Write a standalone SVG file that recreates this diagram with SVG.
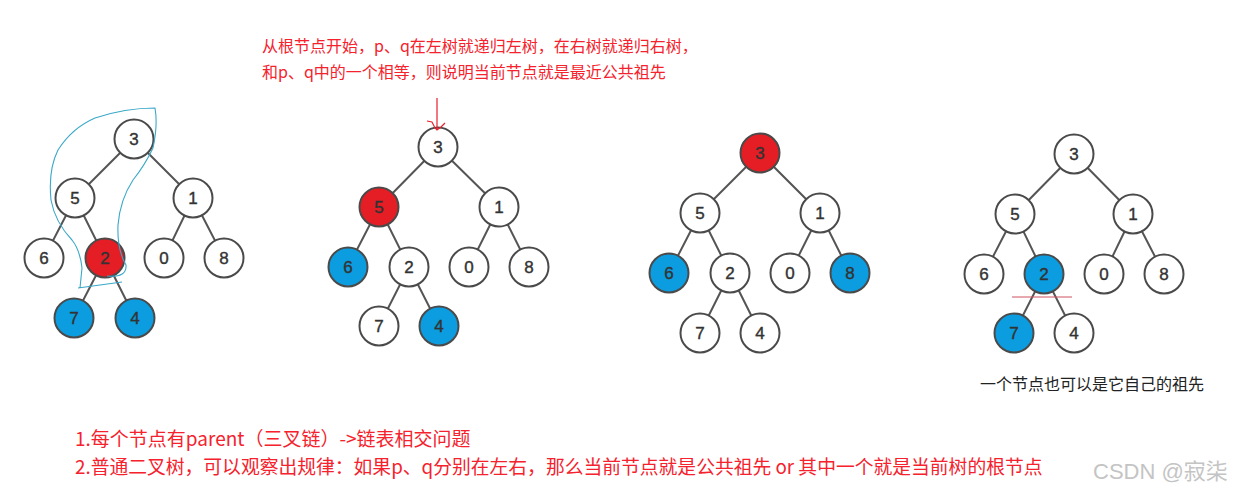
<svg xmlns="http://www.w3.org/2000/svg" width="1234" height="494" viewBox="0 0 1234 494">
<style>
.e{stroke:#555;stroke-width:2;fill:none}
.n{fill:#fff;stroke:#4a4a4a;stroke-width:2}
.r{fill:#e51d25;stroke:#4a4a4a;stroke-width:2}
.b{fill:#0b9de0;stroke:#4a4a4a;stroke-width:2}
.d{font-family:"Liberation Sans",Arial,sans-serif;font-size:17px;fill:#333;stroke:#333;stroke-width:0.4;text-anchor:middle}
.red{font-family:"Noto Sans CJK SC",sans-serif;fill:#f5222d}
.cap{font-family:"Noto Sans CJK SC",sans-serif;font-size:16px;fill:#222}
</style>
<rect width="1234" height="494" fill="#fff"/>
<g id="connectors">
<!-- tree 1 -->
<path class="e" d="M134,139L75,198M134,139L193,198M75,198L44,258M75,198L105,258M193,198L164,258M193,198L224,258M105,258L74,318M105,258L135,318"/>
<!-- tree 2 -->
<path class="e" d="M438,147L379,207M438,147L499,207M379,207L348,267M379,207L409,267M499,207L469,267M499,207L529,267M409,267L379,326M409,267L439,326"/>
<!-- tree 3 -->
<path class="e" d="M760,153L700,213M760,153L820,213M700,213L669,273M700,213L730,273M820,213L790,273M820,213L850,273M730,273L700,333M730,273L760,333"/>
<!-- tree 4 -->
<path class="e" d="M1074,154L1015,214M1074,154L1133,214M1015,214L984,274M1015,214L1044,274M1133,214L1104,274M1133,214L1164,274M1044,274L1014,333M1044,274L1074,333"/>
</g>
<!-- tree 1 nodes -->
<g id="t1-3"><circle class="n" cx="134" cy="139" r="19.5"/><text class="d" x="134" y="145">3</text></g>
<g id="t1-5"><circle class="n" cx="75" cy="198" r="19.5"/><text class="d" x="75" y="204">5</text></g>
<g id="t1-1"><circle class="n" cx="193" cy="198" r="19.5"/><text class="d" x="193" y="204">1</text></g>
<g id="t1-6"><circle class="n" cx="44" cy="258" r="19.5"/><text class="d" x="44" y="264">6</text></g>
<g id="t1-2"><circle class="r" cx="105" cy="258" r="19.5"/><text class="d" x="105" y="264">2</text></g>
<g id="t1-0"><circle class="n" cx="164" cy="258" r="19.5"/><text class="d" x="164" y="264">0</text></g>
<g id="t1-8"><circle class="n" cx="224" cy="258" r="19.5"/><text class="d" x="224" y="264">8</text></g>
<g id="t1-7"><circle class="b" cx="74" cy="318" r="19.5"/><text class="d" x="74" y="324">7</text></g>
<g id="t1-4"><circle class="b" cx="135" cy="318" r="19.5"/><text class="d" x="135" y="324">4</text></g>
<!-- tree 2 nodes -->
<g id="t2-3"><circle class="n" cx="438" cy="147" r="19.5"/><text class="d" x="438" y="153">3</text></g>
<g id="t2-5"><circle class="r" cx="379" cy="207" r="19.5"/><text class="d" x="379" y="213">5</text></g>
<g id="t2-1"><circle class="n" cx="499" cy="207" r="19.5"/><text class="d" x="499" y="213">1</text></g>
<g id="t2-6"><circle class="b" cx="348" cy="267" r="19.5"/><text class="d" x="348" y="273">6</text></g>
<g id="t2-2"><circle class="n" cx="409" cy="267" r="19.5"/><text class="d" x="409" y="273">2</text></g>
<g id="t2-0"><circle class="n" cx="469" cy="267" r="19.5"/><text class="d" x="469" y="273">0</text></g>
<g id="t2-8"><circle class="n" cx="529" cy="267" r="19.5"/><text class="d" x="529" y="273">8</text></g>
<g id="t2-7"><circle class="n" cx="379" cy="326" r="19.5"/><text class="d" x="379" y="332">7</text></g>
<g id="t2-4"><circle class="b" cx="439" cy="326" r="19.5"/><text class="d" x="439" y="332">4</text></g>
<!-- tree 3 nodes -->
<g id="t3-3"><circle class="r" cx="760" cy="153" r="19.5"/><text class="d" x="760" y="159">3</text></g>
<g id="t3-5"><circle class="n" cx="700" cy="213" r="19.5"/><text class="d" x="700" y="219">5</text></g>
<g id="t3-1"><circle class="n" cx="820" cy="213" r="19.5"/><text class="d" x="820" y="219">1</text></g>
<g id="t3-6"><circle class="b" cx="669" cy="273" r="19.5"/><text class="d" x="669" y="279">6</text></g>
<g id="t3-2"><circle class="n" cx="730" cy="273" r="19.5"/><text class="d" x="730" y="279">2</text></g>
<g id="t3-0"><circle class="n" cx="790" cy="273" r="19.5"/><text class="d" x="790" y="279">0</text></g>
<g id="t3-8"><circle class="b" cx="850" cy="273" r="19.5"/><text class="d" x="850" y="279">8</text></g>
<g id="t3-7"><circle class="n" cx="700" cy="333" r="19.5"/><text class="d" x="700" y="339">7</text></g>
<g id="t3-4"><circle class="n" cx="760" cy="333" r="19.5"/><text class="d" x="760" y="339">4</text></g>
<!-- tree 4 nodes -->
<g id="t4-3"><circle class="n" cx="1074" cy="154" r="19.5"/><text class="d" x="1074" y="160">3</text></g>
<g id="t4-5"><circle class="n" cx="1015" cy="214" r="19.5"/><text class="d" x="1015" y="220">5</text></g>
<g id="t4-1"><circle class="n" cx="1133" cy="214" r="19.5"/><text class="d" x="1133" y="220">1</text></g>
<g id="t4-6"><circle class="n" cx="984" cy="274" r="19.5"/><text class="d" x="984" y="280">6</text></g>
<g id="t4-2"><circle class="b" cx="1044" cy="274" r="19.5"/><text class="d" x="1044" y="280">2</text></g>
<g id="t4-0"><circle class="n" cx="1104" cy="274" r="19.5"/><text class="d" x="1104" y="280">0</text></g>
<g id="t4-8"><circle class="n" cx="1164" cy="274" r="19.5"/><text class="d" x="1164" y="280">8</text></g>
<g id="t4-7"><circle class="b" cx="1014" cy="333" r="19.5"/><text class="d" x="1014" y="339">7</text></g>
<g id="t4-4"><circle class="n" cx="1074" cy="333" r="19.5"/><text class="d" x="1074" y="339">4</text></g>
<!-- annotations -->
<path d="M80,288 L82,268 Q80,250 72,240 Q55,222 51,200 Q48,170 58,150 Q72,128 95,118 Q125,108 155,108 Q158,125 153,148 Q145,165 133,180 Q120,200 118,225 Q117,250 126,265 Q127,278 107,276 M78,288 L122,282" fill="none" stroke="#3aa8c8" stroke-width="1.1" stroke-linejoin="round"/>
<path d="M437,98 L437,130 M427,121 L432,122 L435,128 L437,130 L441,127 L445,123" fill="none" stroke="#e8202a" stroke-width="1.2"/>
<line x1="1012" y1="297" x2="1072" y2="297" stroke="#d05060" stroke-width="1"/>
<text class="red" x="262" y="52" font-size="16">从根节点开始，p、q在左树就递归左树，在右树就递归右树，</text>
<text class="red" x="262" y="78" font-size="16">和p、q中的一个相等，则说明当前节点就是最近公共祖先</text>
<text class="cap" x="980" y="390">一个节点也可以是它自己的祖先</text>
<text class="red" x="75" y="446" font-size="19">1.每个节点有parent（三叉链）-&gt;链表相交问题</text>
<text class="red" x="75" y="474" font-size="18.8">2.普通二叉树，可以观察出规律：如果p、q分别在左右，那么当前节点就是公共祖先 or 其中一个就是当前树的根节点</text>
<text x="1093" y="479" font-family="Liberation Sans, Noto Sans CJK SC, sans-serif" font-size="22" fill="#c4c4c4">CSDN @寂柒</text>
</svg>
